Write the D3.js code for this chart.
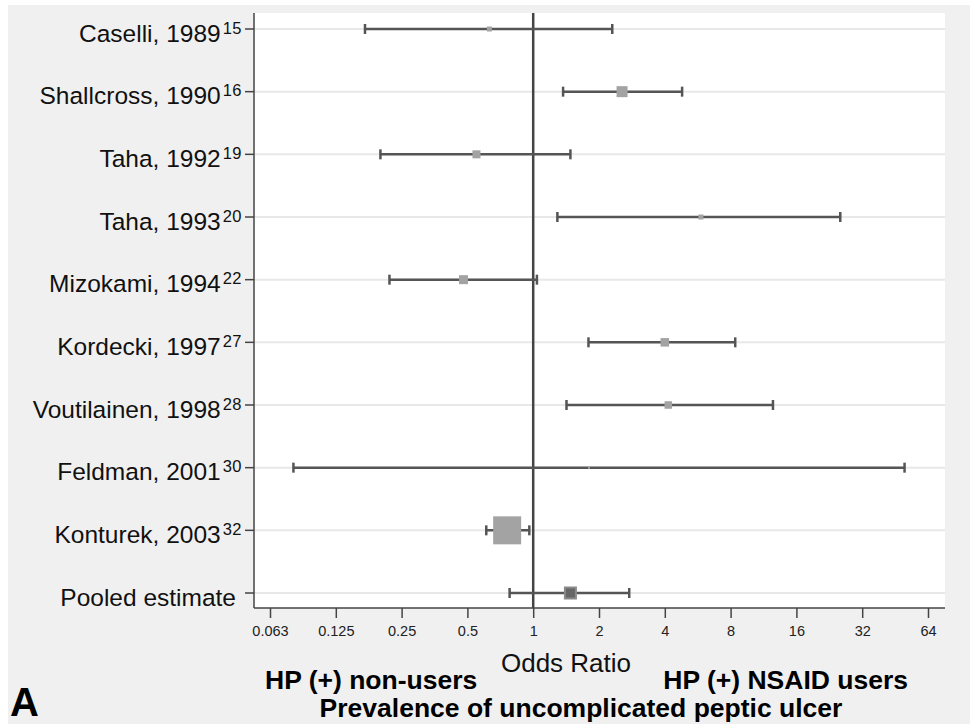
<!DOCTYPE html>
<html>
<head>
<meta charset="utf-8">
<script src="https://cdn.jsdelivr.net/npm/d3@7"></script>
<style>
  body { margin: 0; background: #fff; }
  svg { display: block; font-family: "Liberation Sans", Arial, sans-serif; }
</style>
</head>
<body>
<div id="chart"></div>
<script>
// Studies (top to bottom), reference numbers shown as superscripts
const studies = ["Caselli, 1989", "Shallcross, 1990", "Taha, 1992", "Taha, 1993", "Mizokami, 1994",
                 "Kordecki, 1997", "Voutilainen, 1998", "Feldman, 2001", "Konturek, 2003", "Pooled estimate"];
const refs = ["15", "16", "19", "20", "22", "27", "28", "30", "32", ""];

// Odds ratio with 95% CI
const oddsRatio = [0.63, 2.55, 0.55, 5.85, 0.48, 4.0, 4.15, 1.8, 0.76, 1.48];
const ciLower   = [0.17, 1.37, 0.20, 1.29, 0.22, 1.79, 1.42, 0.08, 0.61, 0.78];
const ciUpper   = [2.30, 4.8, 1.48, 25.4, 1.04, 8.4, 12.5, 50, 0.96, 2.75];
// relative weight of each study (drives marker size)
const weights   = [5, 11, 8, 5, 9, 8.5, 7.5, 2, 28, 11];

const xTicks = [0.0625, 0.125, 0.25, 0.5, 1, 2, 4, 8, 16, 32, 64];
const xTickLabels = ["0.063", "0.125", "0.25", "0.5", "1", "2", "4", "8", "16", "32", "64"];

const W = 970, H = 725;
const plot = {left: 254, right: 945, top: 13, bottom: 608};

const svg = d3.select("#chart").append("svg")
    .attr("width", W)
    .attr("height", H);

// outer grey panel
svg.append("rect")
    .attr("x", 8).attr("y", 5)
    .attr("width", W - 8).attr("height", 719)
    .attr("fill", "#f0f0f0");

// plot area
svg.append("rect")
    .attr("x", plot.left).attr("y", plot.top)
    .attr("width", plot.right - plot.left).attr("height", plot.bottom - plot.top)
    .attr("fill", "#fff");

const x = d3.scaleLog().base(2)
    .domain([0.0625, 64])
    .range([270, 928]);

const y = d3.scalePoint()
    .domain(studies)
    .range([29, 593]);

// horizontal grid lines
svg.append("g")
    .selectAll("line")
    .data(studies)
    .join("line")
    .attr("x1", plot.left).attr("x2", plot.right)
    .attr("y1", d => y(d)).attr("y2", d => y(d))
    .attr("stroke", "#e8e8e8")
    .attr("stroke-width", 2);

// y axis (line + ticks + labels with superscripts)
svg.append("line")
    .attr("x1", plot.left).attr("x2", plot.left)
    .attr("y1", plot.top).attr("y2", plot.bottom)
    .attr("stroke", "#444").attr("stroke-width", 1.5);

svg.append("g")
    .selectAll("line")
    .data(studies)
    .join("line")
    .attr("x1", plot.left - 9).attr("x2", plot.left)
    .attr("y1", d => y(d)).attr("y2", d => y(d))
    .attr("stroke", "#444").attr("stroke-width", 1.5);

const labels = svg.append("g")
    .selectAll("text")
    .data(studies)
    .join("text")
    .attr("x", (d, i) => refs[i] ? 242 : 236)
    .attr("y", d => y(d) + 12.5)
    .attr("text-anchor", "end")
    .style("font-size", "24.5px")
    .attr("fill", "#111");

labels.append("tspan").text(d => d);
labels.append("tspan")
    .attr("dy", -8)
    .attr("dx", 2)
    .style("font-size", "16.5px")
    .style("letter-spacing", "0.5px")
    .text((d, i) => refs[i]);

// x axis
const xAxis = svg.append("g")
    .attr("transform", `translate(0,${plot.bottom})`)
    .call(d3.axisBottom(x)
        .tickValues(xTicks)
        .tickFormat((d, i) => xTickLabels[i])
        .tickSize(10)
        .tickSizeOuter(0)
        .tickPadding(8));

xAxis.select(".domain")
    .attr("d", `M${plot.left},0H${plot.right}`)
    .attr("stroke", "#444").attr("stroke-width", 1.5);
xAxis.selectAll(".tick line").attr("stroke", "#444").attr("stroke-width", 1.5);
xAxis.selectAll(".tick text")
    .style("font-family", "'Liberation Sans', Arial, sans-serif")
    .style("font-size", "14.5px")
    .attr("fill", "#222");

// reference line at OR = 1
svg.append("line")
    .attr("x1", x(1)).attr("x2", x(1))
    .attr("y1", plot.top).attr("y2", plot.bottom)
    .attr("stroke", "#444").attr("stroke-width", 2.5);

// confidence intervals
const rows = studies.map((s, i) => ({
    study: s, or: oddsRatio[i], lo: ciLower[i], hi: ciUpper[i], w: weights[i], pooled: i === studies.length - 1
}));

const ci = svg.append("g").selectAll("g")
    .data(rows)
    .join("g")
    .attr("stroke", "#555")
    .attr("stroke-width", 2.5);

ci.append("line")
    .attr("x1", d => x(d.lo)).attr("x2", d => x(d.hi))
    .attr("y1", d => y(d.study)).attr("y2", d => y(d.study));
ci.append("line")
    .attr("x1", d => x(d.lo)).attr("x2", d => x(d.lo))
    .attr("y1", d => y(d.study) - 5).attr("y2", d => y(d.study) + 5);
ci.append("line")
    .attr("x1", d => x(d.hi)).attr("x2", d => x(d.hi))
    .attr("y1", d => y(d.study) - 5).attr("y2", d => y(d.study) + 5);

// point estimates (squares sized by weight)
svg.append("g").selectAll("rect")
    .data(rows)
    .join("rect")
    .attr("x", d => x(d.or) - d.w / 2)
    .attr("y", d => y(d.study) - d.w / 2)
    .attr("width", d => d.w)
    .attr("height", d => d.w)
    .attr("fill", d => d.pooled ? "#666" : "#a3a3a3")
    .attr("stroke", d => d.pooled ? "#8a8a8a" : "none")
    .attr("stroke-width", 2);

// titles below the axis
svg.append("text")
    .attr("x", 566).attr("y", 672)
    .attr("text-anchor", "middle")
    .style("font-size", "26px")
    .attr("fill", "#111")
    .text("Odds Ratio");

svg.append("text")
    .attr("x", 265).attr("y", 689)
    .style("font-size", "26.5px")
    .style("font-weight", "bold")
    .attr("fill", "#000")
    .text("HP (+) non-users");

svg.append("text")
    .attr("x", 908).attr("y", 689)
    .attr("text-anchor", "end")
    .style("font-size", "26.5px")
    .style("font-weight", "bold")
    .attr("fill", "#000")
    .text("HP (+) NSAID users");

svg.append("text")
    .attr("x", 581).attr("y", 717)
    .attr("text-anchor", "middle")
    .style("font-size", "26.5px")
    .style("font-weight", "bold")
    .attr("fill", "#000")
    .text("Prevalence of uncomplicated peptic ulcer");

svg.append("text")
    .attr("x", 10).attr("y", 716)
    .style("font-size", "40px")
    .style("font-weight", "bold")
    .attr("fill", "#000")
    .text("A");
</script>
</body>
</html>
